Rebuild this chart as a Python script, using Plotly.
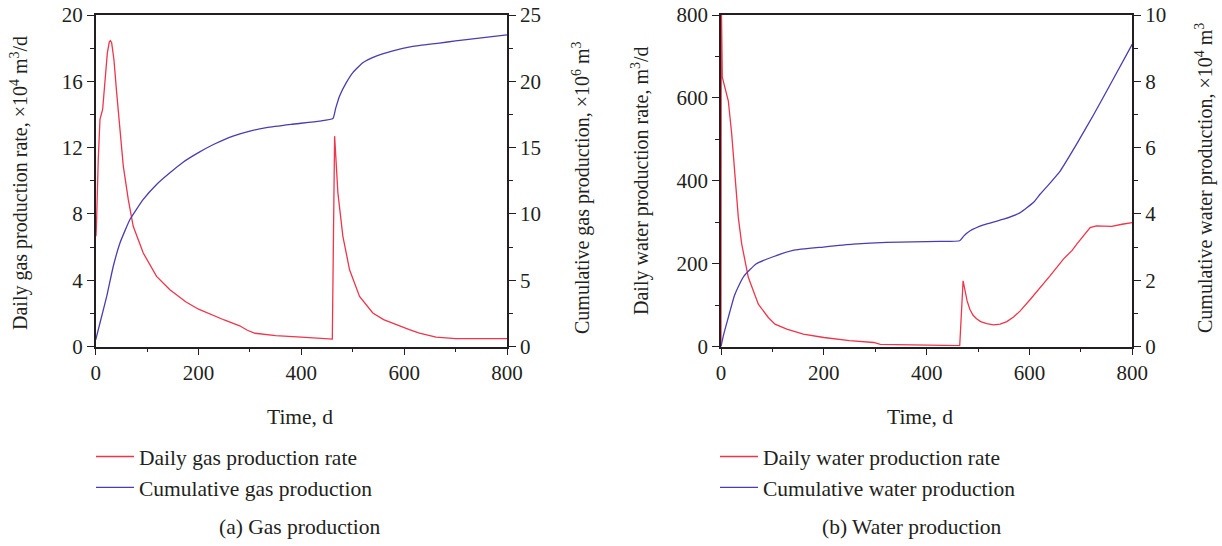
import plotly.graph_objects as go

# ---------------- data ----------------
gas_rate_t = [0.6, 1.5, 5, 8.3, 13.5, 18, 22.6, 26.4, 28.5, 31, 35.5, 40.8, 47.2, 53.6, 63.4, 73, 92.5, 118.4,
              144.3, 175, 200, 225, 250, 280, 295, 310, 350, 400, 460.2, 464.7, 468, 471.1, 480.8, 493.8, 513.2,
              539, 560, 584.5, 610, 629.7, 662, 700, 750, 800]
gas_rate_v = [6.65, 7.35, 11.3, 13.7, 14.3, 16.1, 17.7, 18.37, 18.45, 18.33, 17.3, 15.3, 12.9, 10.9, 8.86, 7.25,
              5.64, 4.23, 3.43, 2.7, 2.25, 1.92, 1.6, 1.25, 0.98, 0.8, 0.66, 0.56, 0.45, 12.69, 10.9, 9.27, 6.65,
              4.63, 3.02, 2.02, 1.62, 1.31, 1.02, 0.81, 0.57, 0.48, 0.48, 0.48]

gas_cum_t = [0, 8.3, 21.4, 34.2, 47.2, 66.6, 92.5, 118.4, 144.3, 170, 199, 230, 267, 300, 332, 380, 435.5,
             461.4, 467, 474.4, 487.4, 500.2, 519.6, 545.6, 578, 616.7, 668.5, 700, 750, 800]
gas_cum_v = [0.5, 1.77, 3.78, 6.05, 7.81, 9.58, 11.09, 12.22, 13.1, 13.9, 14.6, 15.25, 15.87, 16.25, 16.5,
             16.75, 17.0, 17.19, 18.0, 18.9, 19.9, 20.66, 21.4, 21.9, 22.3, 22.63, 22.88, 23.05, 23.28, 23.5]

water_rate_t = [0, 0.5, 2.5, 7.8, 14.2, 20.8, 27.2, 33.7, 40.3, 53.1, 72.6, 92, 105, 128, 160, 200, 250,
                297, 310, 350, 425, 464.3, 470.9, 478.7, 484, 490, 497, 505, 517, 530, 543, 556, 569, 582,
                601.8, 621, 640.3, 666, 683, 692, 705, 718, 730, 745, 760, 780, 800]
water_rate_v = [0, 850, 650, 625, 593, 513, 408, 311, 247, 167, 102, 70, 54, 42, 30, 21.7, 14,
                9.7, 5, 4, 3, 2, 158.6, 110, 90, 76, 67, 60, 55, 52, 54, 60, 71, 86,
                114, 142, 171, 211, 232, 247, 268, 287, 291, 291, 290, 295, 299]

water_cum_t = [0, 5, 12.5, 19, 26, 35, 45, 68, 100, 140, 199, 257, 322, 426, 464.3, 472, 484.6, 510.6, 549.6,
               582, 608, 621, 640, 660, 692, 725, 763, 800]
water_cum_v = [0, 0.35, 0.78, 1.15, 1.53, 1.85, 2.13, 2.49, 2.7, 2.9, 3.0, 3.09, 3.14, 3.17, 3.19, 3.33, 3.49,
               3.67, 3.84, 4.04, 4.35, 4.6, 4.93, 5.3, 6.11, 7.0, 8.07, 9.12]

RED = "#F0344A"
BLUE = "#4A3DB3"
FONT = "Liberation Serif, Times New Roman, serif"
TXT = "#231f20"
W, H = 1222, 546

fig = go.Figure()
fig.add_trace(go.Scatter(x=gas_rate_t, y=gas_rate_v, mode="lines", line=dict(color=RED, width=1.3),
                         name="Daily gas production rate", xaxis="x", yaxis="y", legend="legend"))
fig.add_trace(go.Scatter(x=gas_cum_t, y=gas_cum_v, mode="lines",
                         line=dict(color=BLUE, width=1.3, shape="spline", smoothing=0.4),
                         name="Cumulative gas production", xaxis="x", yaxis="y2", legend="legend"))
fig.add_trace(go.Scatter(x=water_rate_t, y=water_rate_v, mode="lines", line=dict(color=RED, width=1.3),
                         name="Daily water production rate", xaxis="x2", yaxis="y3", legend="legend2"))
fig.add_trace(go.Scatter(x=water_cum_t, y=water_cum_v, mode="lines",
                         line=dict(color=BLUE, width=1.3, shape="spline", smoothing=0.4),
                         name="Cumulative water production", xaxis="x2", yaxis="y4", legend="legend2"))

ydom = [1 - 346.5 / H, 1 - 15 / H]


def ax(rng, dtick, minor, **kw):
    d = dict(range=rng, dtick=dtick, tick0=0, showgrid=False, zeroline=False, showline=True,
             linecolor="#231f20", linewidth=1.5, ticks="outside", ticklen=7, tickwidth=1.3,
             tickcolor="#231f20", tickfont=dict(family=FONT, size=21, color=TXT),
             minor=dict(dtick=minor, tick0=0, ticks="outside", ticklen=4, tickwidth=1.2,
                        tickcolor="#231f20", showgrid=False))
    d.update(kw)
    return d


fig.update_layout(
    width=W, height=H, margin=dict(l=0, r=0, t=0, b=0, autoexpand=False),
    paper_bgcolor="white", plot_bgcolor="white",
    font=dict(family=FONT, size=20, color=TXT),
    xaxis=ax([0, 800], 200, 100, domain=[95.7 / W, 507 / W], anchor="y", mirror=True),
    yaxis=ax([0, 20], 4, 2, domain=ydom, anchor="x"),
    yaxis2=ax([0, 25], 5, 2.5, overlaying="y", side="right", anchor="x"),
    xaxis2=ax([0, 800], 200, 100, domain=[721 / W, 1132.3 / W], anchor="y3", mirror=True),
    yaxis3=ax([0, 800], 200, 100, domain=ydom, anchor="x2"),
    yaxis4=ax([0, 10], 2, 1, overlaying="y3", side="right", anchor="x2"),
    legend=dict(x=91 / W, y=1 - 436 / H, xanchor="left", yanchor="top", bgcolor="rgba(0,0,0,0)",
                font=dict(family=FONT, size=21.5, color=TXT), tracegroupgap=0, itemwidth=38),
    legend2=dict(x=715 / W, y=1 - 436 / H, xanchor="left", yanchor="top", bgcolor="rgba(0,0,0,0)",
                 font=dict(family=FONT, size=21.5, color=TXT), tracegroupgap=0, itemwidth=38),
    showlegend=True,
)

annots = [
    dict(text="Daily gas production rate, ×10<sup>4</sup> m<sup>3</sup>/d", x=20, y=183, angle=-90, size=20),
    dict(text="Cumulative gas production, ×10<sup>6</sup> m<sup>3</sup>", x=581, y=188, angle=-90, size=20),
    dict(text="Daily water production rate, m<sup>3</sup>/d", x=641, y=181, angle=-90, size=20),
    dict(text="Cumulative water production, ×10<sup>4</sup> m<sup>3</sup>", x=1205, y=178, angle=-90, size=20),
    dict(text="Time, d", x=300, y=417, angle=0, size=21.5),
    dict(text="Time, d", x=920, y=417, angle=0, size=21.5),
    dict(text="(a) Gas production", x=299, y=527, angle=0, size=21.5),
    dict(text="(b) Water production", x=912, y=527, angle=0, size=21.5),
]
for a in annots:
    fig.add_annotation(text=a["text"], x=a["x"] / W, y=1 - a["y"] / H, xref="paper", yref="paper",
                       xanchor="center", yanchor="middle", textangle=a["angle"], showarrow=False,
                       font=dict(family=FONT, size=a["size"], color=TXT))

fig.write_html("out.html")
